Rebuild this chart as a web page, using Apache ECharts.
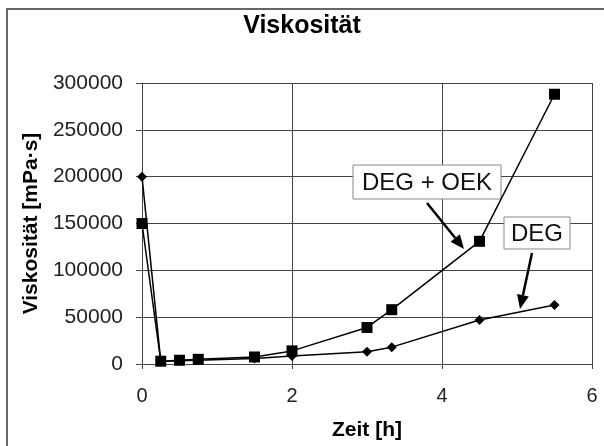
<!DOCTYPE html>
<html><head><meta charset="utf-8">
<script src="https://cdn.jsdelivr.net/npm/echarts@6/dist/echarts.min.js"></script>
<style>html,body{margin:0;padding:0;background:#fff}#c{width:604px;height:446px}</style>
</head><body><div id="c"></div>
<script>
const timeOEK = [0, 0.25, 0.5, 0.75, 1.5, 2, 3, 3.33, 4.5, 5.5];
const viscOEK = [150000, 3000, 4000, 5000, 7500, 14000, 39000, 58000, 131000, 288000];
const timeDEG = [0, 0.25, 0.5, 0.75, 1.5, 2, 3, 3.33, 4.5, 5.5];
const viscDEG = [200000, 3000, 3500, 4000, 6000, 8500, 13000, 18000, 47000, 63000];
const xTicks = [0, 2, 4, 6];
const yTicks = [0, 50000, 100000, 150000, 200000, 250000, 300000];

const chart = echarts.init(document.getElementById('c'), null, {renderer: 'canvas'});
const F = 'Liberation Sans, Arial, sans-serif';
const pairs = (xs, ys) => xs.map((x, i) => [x, ys[i]]);

chart.setOption({
  animation: false,
  backgroundColor: '#fff',
  title: {text: 'Viskosität', left: 'center', top: 9,
    textStyle: {fontFamily: F, fontSize: 25, fontWeight: 'bold', color: '#000'}},
  grid: {left: 142, right: 12, top: 83, bottom: 81},
  xAxis: {type: 'value', min: xTicks[0], max: xTicks[xTicks.length-1], interval: 2,
    name: 'Zeit [h]', nameLocation: 'middle', nameGap: 56,
    nameTextStyle: {fontFamily: F, fontSize: 21, fontWeight: 'bold', color: '#000'},
    axisLine: {show: true, lineStyle: {color: '#444', width: 1}},
    axisTick: {show: true, length: 5, lineStyle: {color: '#444'}},
    axisLabel: {fontFamily: F, fontSize: 20, color: '#222', margin: 22},
    splitLine: {show: true, lineStyle: {color: '#444', width: 1}}},
  yAxis: {type: 'value', min: yTicks[0], max: yTicks[yTicks.length-1], interval: 50000,
    name: 'Viskosität [mPa·s]', nameLocation: 'middle', nameGap: 99,
    nameTextStyle: {fontFamily: F, fontSize: 21, fontWeight: 'bold', color: '#000'},
    axisLine: {show: true, lineStyle: {color: '#444', width: 1}},
    axisTick: {show: true, length: 6, lineStyle: {color: '#444'}},
    axisLabel: {fontFamily: F, fontSize: 21, color: '#222', margin: 19, formatter: v => String(v)},
    splitLine: {show: true, lineStyle: {color: '#444', width: 1}}},
  series: [
    {name: 'DEG', type: 'line', data: pairs(timeDEG, viscDEG), symbol: 'diamond', symbolSize: 10,
      lineStyle: {color: '#000', width: 1.5}, itemStyle: {color: '#000'}},
    {name: 'DEG + OEK', type: 'line', data: pairs(timeOEK, viscOEK), symbol: 'rect', symbolSize: 11,
      lineStyle: {color: '#000', width: 1.5}, itemStyle: {color: '#000'}}
  ]
});

function arrow(x1, y1, x2, y2) {
  const a = Math.atan2(y2 - y1, x2 - x1), L = 14, W = 6;
  const bx = x2 - L * Math.cos(a), by = y2 - L * Math.sin(a);
  const px = -Math.sin(a) * W, py = Math.cos(a) * W;
  return [
    {type: 'line', shape: {x1, y1, x2: bx, y2: by}, style: {stroke: '#000', lineWidth: 2.5}},
    {type: 'polygon', shape: {points: [[x2, y2], [bx + px, by + py], [bx - px, by - py]]}, style: {fill: '#000'}}
  ];
}
function label(txt, cx, cy, w, h) {
  return [
    {type: 'rect', shape: {x: cx - w/2, y: cy - h/2, width: w, height: h},
      style: {fill: '#fff', stroke: '#888', lineWidth: 1}},
    {type: 'text', x: cx, y: cy + 1, style: {text: txt, font: '24px ' + F, fill: '#111',
      textAlign: 'center', textVerticalAlign: 'middle'}}
  ];
}
chart.setOption({graphic: [
  {type: 'rect', shape: {x: 7, y: 9, width: 620, height: 460}, style: {fill: 'none', stroke: '#666', lineWidth: 2}, silent: true},
  ...label('DEG + OEK', 427, 182, 148, 34),
  ...label('DEG', 537, 233, 66, 32),
  ...arrow(427, 203, 464, 249),
  ...arrow(532, 253, 520, 309)
]});
</script></body></html>
